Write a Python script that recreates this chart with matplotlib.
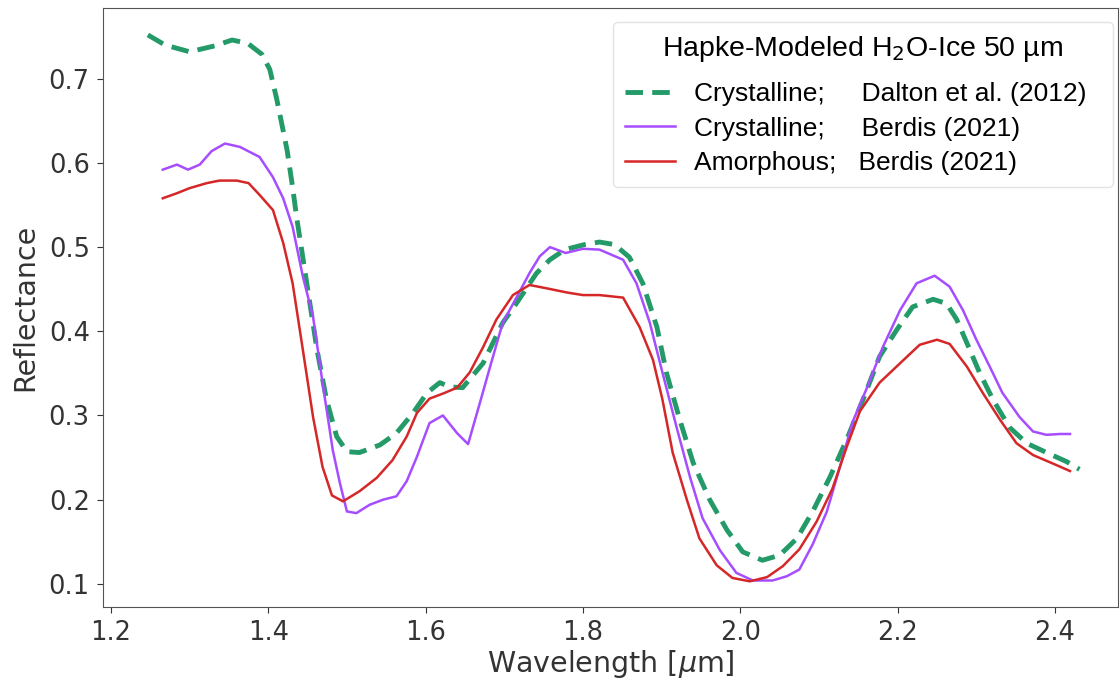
import matplotlib
matplotlib.use("Agg")
import matplotlib.pyplot as plt

# Hapke-modeled H2O ice, 50 um grains
wl_dalton = [1.247, 1.269, 1.300, 1.332, 1.354, 1.374, 1.392, 1.402, 1.411, 1.424,
             1.431, 1.436, 1.449, 1.462, 1.474, 1.487, 1.500, 1.516, 1.542, 1.563,
             1.584, 1.602, 1.618, 1.631, 1.647, 1.673, 1.698, 1.716, 1.741, 1.758,
             1.777, 1.802, 1.821, 1.840, 1.859, 1.876, 1.894, 1.906, 1.923, 1.940,
             1.961, 1.983, 2.003, 2.028, 2.050, 2.072, 2.092, 2.114, 2.135, 2.156,
             2.177, 2.199, 2.219, 2.245, 2.262, 2.275, 2.288, 2.304, 2.321, 2.342,
             2.364, 2.389, 2.415, 2.431]
refl_dalton = [0.752, 0.740, 0.732, 0.739, 0.746, 0.742, 0.729, 0.711, 0.675, 0.615,
               0.571, 0.536, 0.457, 0.378, 0.319, 0.275, 0.257, 0.256, 0.265, 0.279,
               0.303, 0.327, 0.339, 0.334, 0.333, 0.362, 0.410, 0.434, 0.469, 0.485,
               0.497, 0.503, 0.506, 0.503, 0.488, 0.457, 0.405, 0.351, 0.295, 0.244,
               0.200, 0.164, 0.138, 0.128, 0.134, 0.154, 0.186, 0.227, 0.271, 0.319,
               0.370, 0.402, 0.429, 0.438, 0.433, 0.414, 0.386, 0.351, 0.319, 0.286,
               0.267, 0.256, 0.245, 0.236]

wl_cryst = [1.266, 1.284, 1.298, 1.313, 1.328, 1.345, 1.364, 1.389, 1.406, 1.419,
            1.431, 1.444, 1.457, 1.469, 1.482, 1.491, 1.500, 1.512, 1.529, 1.546,
            1.563, 1.576, 1.589, 1.605, 1.622, 1.640, 1.654, 1.669, 1.682, 1.698,
            1.716, 1.732, 1.745, 1.758, 1.778, 1.800, 1.821, 1.851, 1.868, 1.885,
            1.901, 1.919, 1.936, 1.952, 1.974, 1.995, 2.016, 2.041, 2.059, 2.075,
            2.092, 2.110, 2.126, 2.143, 2.161, 2.181, 2.203, 2.224, 2.247, 2.266,
            2.283, 2.300, 2.317, 2.333, 2.355, 2.372, 2.389, 2.406, 2.419]
refl_cryst = [0.592, 0.598, 0.592, 0.598, 0.614, 0.623, 0.619, 0.607, 0.583, 0.558,
              0.524, 0.465, 0.417, 0.339, 0.259, 0.220, 0.186, 0.184, 0.194, 0.200,
              0.204, 0.222, 0.251, 0.291, 0.300, 0.279, 0.266, 0.315, 0.358, 0.410,
              0.441, 0.469, 0.489, 0.500, 0.493, 0.498, 0.497, 0.485, 0.457, 0.410,
              0.351, 0.286, 0.227, 0.178, 0.140, 0.113, 0.104, 0.104, 0.109, 0.117,
              0.147, 0.186, 0.237, 0.293, 0.333, 0.381, 0.425, 0.457, 0.466, 0.453,
              0.425, 0.390, 0.358, 0.327, 0.298, 0.281, 0.277, 0.278, 0.278]

wl_amorph = [1.266, 1.284, 1.300, 1.322, 1.338, 1.360, 1.375, 1.389, 1.406, 1.419,
             1.431, 1.444, 1.457, 1.469, 1.481, 1.495, 1.516, 1.538, 1.558, 1.576,
             1.589, 1.605, 1.622, 1.640, 1.656, 1.673, 1.690, 1.711, 1.732, 1.754,
             1.780, 1.800, 1.821, 1.851, 1.872, 1.889, 1.901, 1.914, 1.932, 1.948,
             1.970, 1.990, 2.012, 2.034, 2.054, 2.075, 2.097, 2.117, 2.135, 2.152,
             2.177, 2.203, 2.228, 2.250, 2.266, 2.288, 2.308, 2.330, 2.351, 2.372,
             2.397, 2.419]
refl_amorph = [0.558, 0.564, 0.570, 0.576, 0.579, 0.579, 0.576, 0.562, 0.544, 0.505,
               0.457, 0.378, 0.298, 0.239, 0.205, 0.198, 0.210, 0.226, 0.247, 0.275,
               0.303, 0.320, 0.326, 0.333, 0.351, 0.381, 0.414, 0.443, 0.455, 0.451,
               0.446, 0.443, 0.443, 0.440, 0.405, 0.366, 0.319, 0.256, 0.200, 0.154,
               0.122, 0.107, 0.103, 0.108, 0.121, 0.141, 0.174, 0.213, 0.262, 0.305,
               0.339, 0.362, 0.384, 0.390, 0.385, 0.358, 0.327, 0.295, 0.267, 0.253,
               0.243, 0.234]

fig = plt.figure(figsize=(11.2, 6.89), dpi=100)
ax = fig.add_axes([103 / 1120, 1 - 607 / 689, (1118 - 103) / 1120, (607 - 8) / 689])

ax.plot(wl_dalton, refl_dalton, color='#239a68', lw=3.5, ls=(0, (3.6, 1.9)),
        label='Crystalline;     Dalton et al. (2012)  ')
ax.plot(wl_cryst, refl_cryst, color='#a64dff', lw=1.8,
        label='Crystalline;     Berdis (2021)')
ax.plot(wl_amorph, refl_amorph, color='#d62728', lw=1.8,
        label='Amorphous;   Berdis (2021)')

ax.set_xlim(1.19, 2.48)
ax.set_ylim(0.0725, 0.784)
ax.set_xticks([1.2, 1.4, 1.6, 1.8, 2.0, 2.2, 2.4])
ax.set_yticks([0.1, 0.2, 0.3, 0.4, 0.5, 0.6, 0.7])
ax.tick_params(labelsize=18.5, colors='#333333', length=4.5, pad=5)
for s in ax.spines.values():
    s.set_color('#555555')
ax.set_xlabel(r'Wavelength [$\mu$m]', fontsize=20.5, color='#333333', labelpad=1)
ax.set_ylabel('Reflectance', fontsize=20.5, color='#333333', labelpad=7)

leg = ax.legend(loc='upper right', bbox_to_anchor=(0.995, 0.9766), borderaxespad=0,
                title=r'Hapke-Modeled H$_2$O-Ice 50 µm',
                prop={'family': 'Liberation Sans', 'size': 19},
                title_fontproperties={'family': 'Liberation Sans', 'size': 20.5},
                handlelength=1.9, handletextpad=0.72, borderpad=0.45,
                labelspacing=0.40, fancybox=True)
leg.get_frame().set_edgecolor('#dddddd')
leg._legend_box.sep = 13  # extra gap under the title

fig.savefig('out.png', dpi=100)
